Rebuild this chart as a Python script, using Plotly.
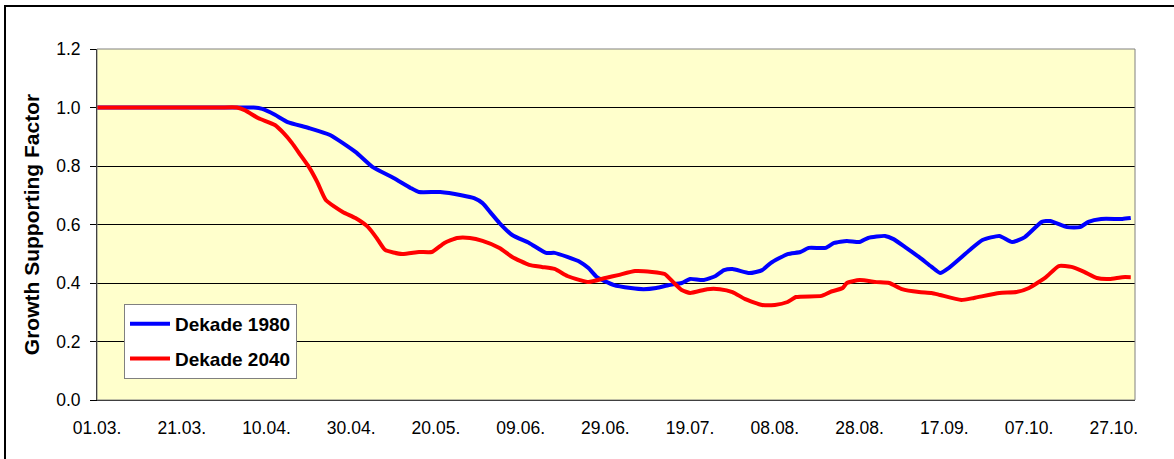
import pandas as pd
import plotly.graph_objects as go

# Growth supporting factor over the season, decade 1980 vs decade 2040
dates_1980 = [
    "03-01", "03-20", "04-02", "04-07", "04-09", "04-12", "04-15", "04-20", "04-25", "05-01", "05-05", "05-10",
    "05-14", "05-16", "05-21", "05-26", "05-29", "05-31", "06-02", "06-04", "06-07", "06-11",
    "06-15", "06-17", "06-20", "06-23", "06-25", "06-27", "07-01", "07-05", "07-08", "07-11",
    "07-14", "07-17", "07-19", "07-22", "07-25", "07-27", "07-29", "08-02", "08-05", "08-07",
    "08-11", "08-14", "08-16", "08-20", "08-22", "08-25", "08-28", "08-30", "09-03", "09-05",
    "09-08", "09-11", "09-14", "09-16", "09-18", "09-23", "09-26", "09-30", "10-03", "10-06",
    "10-10", "10-12", "10-16", "10-19", "10-21", "10-24", "10-29", "10-31",
]
values_1980 = [
    1.0, 1.0, 1.0, 1.0, 0.995, 0.975, 0.95, 0.93, 0.906, 0.848, 0.797, 0.759,
    0.725, 0.711, 0.711, 0.70, 0.69, 0.673, 0.639, 0.605, 0.564, 0.537,
    0.503, 0.503, 0.489, 0.472, 0.451, 0.42, 0.393, 0.383, 0.379, 0.383,
    0.393, 0.40, 0.414, 0.41, 0.424, 0.444, 0.448, 0.434, 0.444, 0.468,
    0.499, 0.506, 0.52, 0.52, 0.537, 0.544, 0.54, 0.554, 0.561, 0.55,
    0.52, 0.489, 0.455, 0.434, 0.451, 0.513, 0.547, 0.561, 0.54, 0.557,
    0.609, 0.612, 0.591, 0.591, 0.609, 0.619, 0.619, 0.622,
]

dates_2040 = [
    "03-01", "03-20", "03-30", "04-03", "04-05", "04-08", "04-12", "04-14", "04-16", "04-18", "04-20", "04-22",
    "04-24", "04-28", "05-01", "05-04", "05-06", "05-08", "05-12", "05-16", "05-19", "05-22",
    "05-25", "05-28", "05-31", "06-04", "06-07", "06-11", "06-14", "06-17", "06-20", "06-23",
    "06-25", "06-29", "07-02", "07-06", "07-10", "07-13", "07-15", "07-17", "07-19", "07-23",
    "07-26", "07-29", "08-01", "08-05", "08-08", "08-11", "08-13", "08-19", "08-21", "08-24",
    "08-25", "08-28", "09-01", "09-04", "09-07", "09-11", "09-14", "09-16", "09-21", "09-24",
    "09-30", "10-04", "10-07", "10-11", "10-14", "10-17", "10-20", "10-23", "10-26", "10-29",
    "10-31",
]
values_2040 = [
    1.0, 1.0, 1.0, 1.0, 0.99, 0.964, 0.94, 0.913, 0.879, 0.838, 0.797, 0.745,
    0.684, 0.643, 0.622, 0.591, 0.554, 0.513, 0.499, 0.506, 0.506, 0.537,
    0.554, 0.554, 0.544, 0.52, 0.489, 0.462, 0.455, 0.448, 0.424, 0.41,
    0.403, 0.417, 0.427, 0.441, 0.438, 0.431, 0.403, 0.376, 0.366, 0.379,
    0.379, 0.369, 0.345, 0.325, 0.325, 0.335, 0.352, 0.356, 0.369, 0.383,
    0.40, 0.41, 0.403, 0.40, 0.379, 0.369, 0.366, 0.359, 0.342, 0.349,
    0.366, 0.369, 0.383, 0.42, 0.458, 0.455, 0.438, 0.417, 0.414, 0.42,
    0.42,
]

series_names = ["Dekade 1980", "Dekade 2040"]
series_colors = ["#0000FF", "#FF0000"]

YEAR = "2001"
x_1980 = pd.to_datetime([f"{YEAR}-{d}" for d in dates_1980])
x_2040 = pd.to_datetime([f"{YEAR}-{d}" for d in dates_2040])

FONT = "Arial, 'Liberation Sans', sans-serif"

fig = go.Figure()
for i, (xs, ys) in enumerate([(x_1980, values_1980), (x_2040, values_2040)]):
    fig.add_trace(go.Scatter(
        x=xs, y=ys, mode="lines", name=series_names[i],
        legendgroup=f"g{i}",
        line=dict(color=series_colors[i], width=4, shape="spline", smoothing=0.5),
    ))

L, R, T, B = 97, 39, 49, 59
W, H = 1174, 459
pw, ph = W - L - R, H - T - B

def px_to_paper_x(px):
    return (px - L) / pw

def px_to_paper_y(py):
    return (H - B - py) / ph

fig.update_layout(
    width=W, height=H,
    margin=dict(l=L, r=R, t=T, b=B),
    paper_bgcolor="white",
    plot_bgcolor="#FFFFCC",
    font=dict(family=FONT, color="black"),
    showlegend=True,
    legend=dict(
        x=px_to_paper_x(124), y=px_to_paper_y(304),
        xanchor="left", yanchor="top",
        bgcolor="white", bordercolor="#808080", borderwidth=1,
        font=dict(family=FONT, size=19, color="black", weight="bold"),
        tracegroupgap=7,
        itemwidth=40,
    ),
    xaxis=dict(
        type="date",
        range=[f"{YEAR}-03-01", f"{YEAR}-11-01"],
        tick0=f"{YEAR}-03-01",
        dtick=20 * 86400000,
        tickformat="%d.%m.",
        ticks="outside", ticklen=12, tickcolor="rgba(0,0,0,0)",
        tickfont=dict(family=FONT, size=17.5, color="black"),
        showgrid=False, zeroline=False,
        showline=True, linecolor="black", linewidth=1,
    ),
    yaxis=dict(
        range=[0, 1.2], dtick=0.2, tick0=0, tickformat=".1f",
        ticks="outside", ticklen=6, tickcolor="black",
        ticklabelstandoff=6,
        tickfont=dict(family=FONT, size=17.5, color="black"),
        showgrid=True, gridcolor="black", gridwidth=1,
        zeroline=False,
        showline=True, linecolor="black", linewidth=1,
        title=dict(text="Growth Supporting Factor", standoff=10,
                   font=dict(family=FONT, size=21, color="black", weight="bold")),
    ),
    shapes=[
        # plot area frame
        dict(type="rect", xref="paper", yref="paper", x0=0, x1=1, y0=0, y1=1,
             line=dict(color="#808080", width=1), layer="above"),
        # chart area frame
        dict(type="rect", xref="paper", yref="paper",
             x0=px_to_paper_x(5), x1=px_to_paper_x(1185),
             y0=px_to_paper_y(470), y1=px_to_paper_y(6),
             line=dict(color="black", width=2), layer="above"),
    ],
)

fig.write_html("out.html")
